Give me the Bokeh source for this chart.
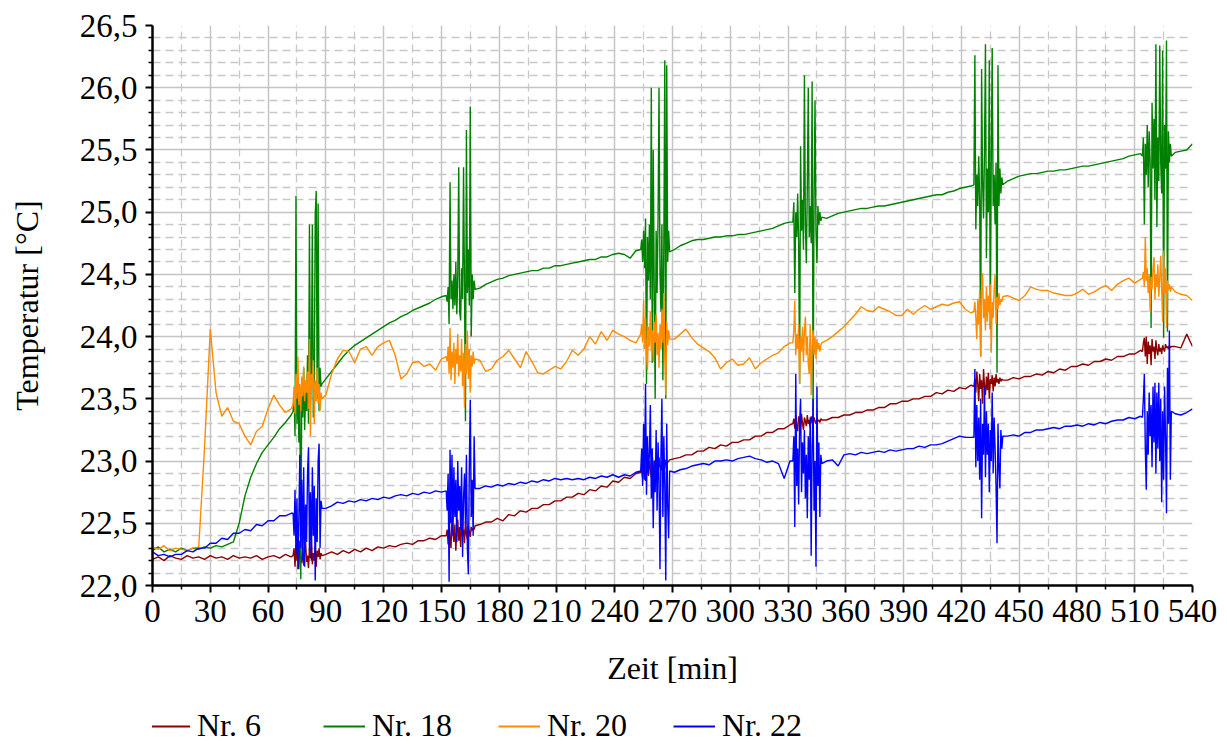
from bokeh.plotting import figure
from bokeh.layouts import column
from bokeh.models import FixedTicker, CustomJSTickFormatter, Legend, LegendItem, Range1d
from bokeh.embed import file_html
from bokeh.resources import INLINE

# time axis segments: (start minute, step in minutes); values below are read per segment
SEGMENTS = [(0, 3), (73, 0.5), (90, 3), (152.5, 0.5), (170, 3), (253.5, 0.5), (271, 3),
            (332.5, 0.5), (350, 3), (426.5, 0.5), (444, 3), (514, 0.5), (531, 3)]

nr6 = [
    [22.21, 22.23, 22.20, 22.24, 22.22, 22.21, 22.24, 22.22, 22.23, 22.21, 22.24, 22.22, 22.23,
     22.21, 22.24, 22.22, 22.23, 22.22, 22.24, 22.21, 22.23, 22.24, 22.22, 22.25, 22.23],
    [22.24, 22.30, 22.15, 22.33, 22.20, 22.28, 22.13, 22.36, 22.22, 22.18, 22.31, 22.16, 22.27,
     22.35, 22.19, 22.24, 22.14, 22.30, 22.22, 22.37, 22.17, 22.26, 22.20, 22.32, 22.15, 22.28,
     22.23, 22.30, 22.21, 22.26, 22.24],
    [22.25, 22.27, 22.25, 22.28, 22.26, 22.29, 22.27, 22.30, 22.28, 22.31, 22.30, 22.32, 22.31,
     22.33, 22.34, 22.33, 22.36, 22.36, 22.38, 22.37, 22.40],
    [22.40, 22.45, 22.33, 22.52, 22.38, 22.30, 22.55, 22.42, 22.35, 22.49, 22.28, 22.44, 22.53,
     22.36, 22.47, 22.31, 22.50, 22.40, 22.45, 22.34, 22.52, 22.41, 22.37, 22.48, 22.43, 22.39,
     22.47, 22.44, 22.46, 22.45, 22.48],
    [22.49, 22.51, 22.51, 22.54, 22.52, 22.57, 22.56, 22.60, 22.59, 22.62, 22.62, 22.65, 22.65,
     22.68, 22.68, 22.71, 22.71, 22.74, 22.73, 22.77, 22.76, 22.80, 22.79, 22.84, 22.83, 22.87,
     22.86, 22.90],
    [22.91, 22.93, 22.86, 22.98, 22.90, 22.84, 23.02, 22.92, 22.88, 23.00, 22.94, 22.87, 23.04,
     22.95, 22.90, 23.01, 22.93, 22.97, 22.89, 23.03, 22.96, 22.92, 23.00, 22.95, 22.98, 22.94,
     23.01, 22.97, 22.99, 23.00, 23.01],
    [23.02, 23.03, 23.05, 23.05, 23.08, 23.08, 23.11, 23.10, 23.13, 23.12, 23.15, 23.15, 23.17,
     23.17, 23.20, 23.20, 23.23, 23.23, 23.26, 23.26, 23.29],
    [23.30, 23.34, 23.26, 23.37, 23.29, 23.24, 23.36, 23.31, 23.27, 23.38, 23.30, 23.25, 23.35,
     23.32, 23.28, 23.37, 23.30, 23.33, 23.27, 23.36, 23.31, 23.29, 23.35, 23.32, 23.30, 23.34,
     23.32, 23.33, 23.31, 23.34, 23.33],
    [23.33, 23.35, 23.35, 23.37, 23.37, 23.39, 23.39, 23.41, 23.41, 23.43, 23.43, 23.46, 23.46,
     23.48, 23.48, 23.50, 23.50, 23.52, 23.52, 23.55, 23.54, 23.57, 23.56, 23.59, 23.58, 23.61],
    [23.60, 23.66, 23.55, 23.72, 23.62, 23.48, 23.70, 23.58, 23.65, 23.46, 23.74, 23.60, 23.53,
     23.68, 23.57, 23.71, 23.50, 23.66, 23.62, 23.69, 23.56, 23.67, 23.60, 23.70, 23.63, 23.66,
     23.62, 23.67, 23.64, 23.66, 23.65],
    [23.65, 23.67, 23.66, 23.68, 23.68, 23.70, 23.69, 23.72, 23.71, 23.74, 23.73, 23.76, 23.76,
     23.78, 23.77, 23.80, 23.80, 23.82, 23.81, 23.84, 23.84, 23.86, 23.86, 23.89],
    [23.88, 23.95, 23.99, 23.84, 24.00, 23.78, 23.96, 23.86, 23.93, 23.77, 23.98, 23.88, 23.92,
     23.82, 23.97, 23.89, 23.85, 23.94, 23.88, 23.91, 23.86, 23.93, 23.90, 23.88, 23.94, 23.91,
     23.92, 23.90, 23.93, 23.91, 23.92],
    [23.92, 23.91, 24.02, 23.92],
]

nr18 = [
    [22.28, 22.31, 22.27, 22.29, 22.27, 22.30, 22.28, 22.30, 22.29, 22.31, 22.30, 22.32, 22.31,
     22.33, 22.35, 22.50, 22.72, 22.87, 22.98, 23.07, 23.13, 23.19, 23.26, 23.31, 23.37],
    [23.40, 23.55, 23.20, 25.13, 23.30, 23.65, 23.15, 23.50, 22.05, 23.60, 23.35, 23.75, 23.25,
     23.55, 23.40, 23.85, 23.30, 24.90, 23.45, 23.70, 24.90, 23.35, 23.60, 24.98, 25.17, 23.50,
     25.07, 23.40, 23.75, 23.60, 23.62],
    [23.66, 23.72, 23.78, 23.84, 23.89, 23.93, 23.96, 23.99, 24.02, 24.05, 24.08, 24.11, 24.13,
     24.16, 24.18, 24.21, 24.23, 24.25, 24.27, 24.30, 24.32],
    [24.33, 24.28, 24.40, 24.10, 25.24, 24.30, 24.45, 24.22, 24.50, 24.25, 24.60, 24.18, 24.48,
     25.36, 24.20, 24.13, 24.55, 24.30, 25.36, 24.40, 23.32, 25.66, 24.35, 24.70, 24.25, 25.85,
     24.00, 24.50, 24.30, 24.45, 24.38],
    [24.39, 24.42, 24.44, 24.46, 24.47, 24.49, 24.50, 24.51, 24.52, 24.53, 24.53, 24.55, 24.55,
     24.57, 24.57, 24.58, 24.59, 24.60, 24.61, 24.62, 24.62, 24.64, 24.64, 24.66, 24.67, 24.66,
     24.63, 24.69],
    [24.70, 24.78, 24.60, 24.85, 24.55, 24.95, 23.62, 24.80, 24.45, 24.90, 24.30, 26.00, 23.79,
     25.50, 24.40, 23.50, 24.85, 24.35, 24.95, 26.00, 24.50, 24.20, 24.90, 23.65, 24.75, 26.22,
     23.50, 26.18, 24.60, 24.85, 24.68],
    [24.70, 24.73, 24.75, 24.77, 24.78, 24.78, 24.79, 24.80, 24.80, 24.81, 24.81, 24.82, 24.82,
     24.83, 24.84, 24.85, 24.86, 24.87, 24.89, 24.91, 24.92],
    [24.92, 25.08, 24.35, 25.00, 24.80, 25.15, 24.75, 23.62, 25.53, 24.85, 25.10, 24.70, 26.10,
     24.90, 24.59, 25.20, 26.00, 24.80, 25.05, 24.75, 26.05, 23.40, 25.10, 25.90, 24.85, 24.59,
     25.05, 24.90, 25.00, 24.93, 24.96],
    [24.95, 24.97, 24.99, 25.00, 25.01, 25.02, 25.03, 25.03, 25.04, 25.05, 25.05, 25.06, 25.07,
     25.08, 25.09, 25.10, 25.11, 25.12, 25.13, 25.14, 25.14, 25.16, 25.17, 25.19, 25.20, 25.21],
    [25.22, 26.26, 24.86, 25.30, 25.05, 25.45, 25.10, 23.84, 26.15, 25.25, 24.95, 25.50, 26.35,
     24.63, 25.35, 25.00, 26.22, 24.06, 25.40, 26.32, 25.05, 25.30, 24.90, 25.40, 23.71, 26.18,
     25.05, 25.35, 25.15, 25.28, 25.22],
    [25.25, 25.27, 25.29, 25.30, 25.31, 25.31, 25.32, 25.33, 25.33, 25.34, 25.34, 25.35, 25.36,
     25.37, 25.37, 25.38, 25.39, 25.40, 25.41, 25.42, 25.43, 25.45, 25.46, 25.47],
    [25.45, 25.60, 24.90, 25.55, 25.30, 25.70, 25.20, 25.65, 25.40, 24.07, 25.88, 25.35, 25.75,
     25.10, 26.35, 24.88, 25.60, 25.25, 26.34, 25.40, 25.15, 26.30, 23.99, 25.70, 25.35, 26.38,
     24.04, 25.65, 25.40, 25.55, 25.45],
    [25.48, 25.49, 25.50, 25.55],
]

nr20 = [
    [22.31, 22.29, 22.32, 22.28, 22.30, 22.29, 22.28, 22.30, 22.31, 23.10, 24.06, 23.55, 23.36,
     23.43, 23.32, 23.30, 23.20, 23.13, 23.24, 23.28, 23.42, 23.53, 23.45, 23.39, 23.42],
    [23.45, 23.60, 23.38, 23.70, 23.50, 23.84, 23.45, 23.62, 23.40, 23.68, 23.52, 23.76, 23.48,
     23.65, 23.55, 23.72, 23.42, 23.98, 23.20, 23.70, 23.58, 23.81, 23.30, 23.65, 23.48, 23.75,
     23.46, 23.62, 23.40, 23.55, 23.50],
    [23.53, 23.70, 23.82, 23.89, 23.88, 23.79, 23.90, 23.92, 23.85, 23.92, 23.95, 23.97, 23.85,
     23.66, 23.70, 23.79, 23.80, 23.76, 23.78, 23.73, 23.82],
    [23.84, 23.80, 23.92, 23.70, 24.07, 23.65, 23.88, 23.75, 23.95, 23.62, 23.90, 23.78, 24.02,
     23.68, 23.85, 23.72, 23.98, 23.60, 23.87, 23.43, 23.94, 23.70, 24.05, 23.66, 23.90, 23.55,
     23.85, 23.76, 23.88, 23.78, 23.82],
    [23.81, 23.72, 23.74, 23.81, 23.84, 23.89, 23.82, 23.75, 23.88, 23.80, 23.71, 23.70, 23.73,
     23.76, 23.74, 23.80, 23.89, 23.85, 23.90, 24.00, 23.94, 24.04, 23.97, 24.05, 24.02, 24.00,
     23.97, 23.95],
    [24.02, 24.10, 23.95, 24.30, 23.90, 24.15, 23.85, 23.73, 24.08, 23.92, 24.20, 23.88, 24.05,
     23.80, 24.12, 23.95, 24.18, 23.85, 24.03, 23.75, 24.10, 23.90, 24.22, 23.95, 24.35, 23.82,
     23.53, 24.12, 23.93, 24.05, 23.98],
    [23.98, 24.02, 24.06, 23.99, 23.94, 23.91, 23.88, 23.83, 23.74, 23.79, 23.82, 23.77, 23.78,
     23.83, 23.74, 23.79, 23.82, 23.85, 23.87, 23.92, 23.95],
    [23.95, 24.05, 24.29, 23.85, 24.02, 23.90, 24.10, 23.62, 24.00, 23.88, 24.08, 23.80, 24.05,
     24.16, 23.85, 24.00, 23.78, 23.70, 24.10, 23.53, 23.92, 24.05, 23.85, 24.00, 23.82, 23.98,
     23.90, 23.95, 23.88, 23.93, 23.95],
    [23.97, 24.00, 24.04, 24.08, 24.13, 24.18, 24.24, 24.21, 24.20, 24.24, 24.22, 24.20, 24.17,
     24.17, 24.22, 24.18, 24.22, 24.25, 24.22, 24.24, 24.26, 24.25, 24.27, 24.28, 24.22, 24.19],
    [24.20, 24.28, 24.15, 23.98, 24.30, 24.10, 24.38, 23.84, 24.35, 24.51, 24.15, 24.30, 24.05,
     24.40, 24.12, 24.33, 24.20, 24.42, 23.87, 24.28, 24.15, 24.38, 24.50, 24.10, 24.32, 24.22,
     24.35, 24.25, 24.30, 24.28, 24.32],
    [24.33, 24.31, 24.29, 24.33, 24.40, 24.38, 24.37, 24.37, 24.35, 24.34, 24.33, 24.33, 24.35,
     24.38, 24.34, 24.36, 24.39, 24.41, 24.37, 24.42, 24.45, 24.47, 24.43, 24.46],
    [24.47, 24.52, 24.40, 24.80, 24.45, 24.55, 24.35, 24.50, 24.20, 24.48, 24.38, 24.55, 24.64,
     24.30, 24.50, 24.40, 24.58, 24.32, 24.47, 24.65, 24.38, 24.12, 24.69, 24.35, 24.55, 24.07,
     24.45, 24.38, 24.42, 24.36, 24.40],
    [24.36, 24.34, 24.33, 24.29],
]

nr22 = [
    [22.27, 22.24, 22.25, 22.23, 22.25, 22.25, 22.28, 22.27, 22.30, 22.30, 22.34, 22.34, 22.38,
     22.37, 22.42, 22.42, 22.45, 22.44, 22.49, 22.48, 22.52, 22.52, 22.56, 22.56, 22.58],
    [22.58, 22.40, 22.77, 22.25, 22.70, 22.13, 22.55, 23.05, 22.30, 22.85, 22.20, 22.95, 22.15,
     22.65, 22.35, 22.90, 23.11, 22.28, 22.75, 22.20, 22.95, 22.40, 22.80, 22.04, 22.70, 22.35,
     23.00, 23.14, 22.30, 22.68, 22.62],
    [22.62, 22.64, 22.67, 22.66, 22.68, 22.67, 22.69, 22.68, 22.70, 22.69, 22.71, 22.70, 22.72,
     22.73, 22.72, 22.74, 22.73, 22.75, 22.74, 22.76, 22.75],
    [22.76, 22.60, 22.90, 22.03, 23.09, 22.50, 23.05, 22.40, 22.95, 22.55, 22.85, 22.35, 23.00,
     22.60, 22.80, 22.45, 22.95, 22.23, 22.70, 22.90, 22.50, 23.05, 22.30, 22.09, 22.95, 23.49,
     22.55, 22.85, 22.40, 23.20, 22.78],
    [22.78, 22.80, 22.79, 22.81, 22.80, 22.82, 22.81, 22.83, 22.82, 22.84, 22.83, 22.85, 22.84,
     22.86, 22.85, 22.86, 22.85, 22.86, 22.85, 22.87, 22.86, 22.88, 22.87, 22.89, 22.87, 22.89,
     22.88, 22.91],
    [22.92, 23.10, 22.80, 23.30, 22.85, 23.62, 22.73, 23.20, 22.90, 23.05, 23.45, 22.70, 23.10,
     22.46, 23.00, 22.75, 23.25, 22.60, 23.15, 22.85, 22.13, 23.05, 23.50, 22.55, 23.20, 22.80,
     22.04, 23.30, 22.65, 22.38, 22.92],
    [22.91, 22.93, 22.94, 22.96, 22.97, 22.98, 22.97, 23.00, 23.00, 23.01, 23.00, 23.02, 23.03,
     23.04, 23.02, 23.01, 22.99, 23.00, 22.98, 22.86, 23.00],
    [23.00, 23.20, 22.47, 23.70, 22.80, 23.10, 22.65, 23.30, 23.50, 22.75, 23.15, 22.90, 23.25,
     22.70, 23.05, 22.54, 23.20, 22.85, 23.35, 22.24, 23.10, 23.50, 22.60, 23.00, 22.15, 23.60,
     22.80, 23.15, 22.55, 23.05, 22.98],
    [23.00, 23.01, 22.96, 23.05, 23.06, 23.05, 23.07, 23.06, 23.07, 23.08, 23.07, 23.09, 23.08,
     23.09, 23.10, 23.10, 23.12, 23.11, 23.13, 23.13, 23.14, 23.16, 23.18, 23.20, 23.19, 23.19],
    [23.19, 23.74, 22.95, 23.45, 23.00, 23.35, 22.85, 23.50, 22.54, 23.30, 23.05, 23.60, 22.87,
     23.40, 23.05, 23.30, 22.75, 23.25, 23.00, 23.55, 22.90, 23.35, 23.10, 22.80, 22.34, 23.30,
     22.95, 22.78, 23.25, 23.10, 23.20],
    [23.20, 23.21, 23.20, 23.23, 23.23, 23.25, 23.25, 23.26, 23.27, 23.26, 23.28, 23.28, 23.29,
     23.28, 23.30, 23.29, 23.31, 23.30, 23.32, 23.33, 23.33, 23.35, 23.34, 23.36],
    [23.35, 23.50, 23.70, 23.10, 22.77, 23.40, 23.05, 23.55, 23.20, 23.45, 22.95, 23.60, 23.15,
     23.63, 22.90, 23.55, 23.10, 23.63, 23.00, 23.50, 22.67, 23.40, 22.85, 23.60, 23.20, 22.58,
     23.75, 23.30, 24.05, 22.85, 23.40],
    [23.38, 23.37, 23.39, 23.42],
]

SERIES = ["Nr. 6", "Nr. 18", "Nr. 20", "Nr. 22"]
COLORS = ["#8b0000", "#008000", "#ff8c00", "#0000ff"]
X_TICKS = list(range(0, 541, 30))
Y_TICKS = [22.0, 22.5, 23.0, 23.5, 24.0, 24.5, 25.0, 25.5, 26.0, 26.5]


def flatten(segs):
    ts, vs = [], []
    for (start, step), vals in zip(SEGMENTS, segs):
        for i, v in enumerate(vals):
            ts.append(start + step * i)
            vs.append(v)
    return ts, vs


FONT = "Liberation Serif"
LEG_H = 54
p = figure(width=1227, height=744 - LEG_H, output_backend="svg", toolbar_location=None,
           x_range=Range1d(0, 540), y_range=Range1d(22.0, 26.5),
           min_border_left=152, min_border_right=35, min_border_top=25,
           min_border_bottom=744 - LEG_H - 585)
p.outline_line_color = None
p.background_fill_color = "white"
p.border_fill_color = "white"

x_minor = [t + 15 for t in X_TICKS[:-1]]
y_minor = [round(22.0 + 0.1 * k, 1) for k in range(1, 45) if k % 5 != 0]
p.xaxis.ticker = FixedTicker(ticks=X_TICKS, minor_ticks=x_minor)
p.yaxis.ticker = FixedTicker(ticks=Y_TICKS, minor_ticks=y_minor)
p.yaxis.formatter = CustomJSTickFormatter(code="return tick.toFixed(1).replace('.', ',');")
p.xaxis.formatter = CustomJSTickFormatter(code="return tick.toFixed(0);")

p.xgrid.ticker = FixedTicker(ticks=X_TICKS[1:-1], minor_ticks=x_minor)
p.ygrid.ticker = FixedTicker(ticks=Y_TICKS[1:-1], minor_ticks=y_minor)
for g in (p.xgrid[0], p.ygrid[0]):
    g.grid_line_color = "#c4c4c4"
    g.grid_line_width = 1.5
    g.minor_grid_line_color = "#c8c8c8"
    g.minor_grid_line_width = 1.3
    g.minor_grid_line_dash = "8 5"

for ax in (p.xaxis[0], p.yaxis[0]):
    ax.axis_line_width = 2.5
    ax.axis_line_color = "black"
    ax.major_tick_line_width = 2
    ax.major_tick_out = 7
    ax.major_tick_in = 0
    ax.minor_tick_line_width = 1.5
    ax.minor_tick_out = 4
    ax.minor_tick_in = 0
    ax.major_label_text_font = FONT
    ax.major_label_text_font_size = "33px"
    ax.major_label_text_color = "black"
    ax.axis_label_text_font = FONT
    ax.axis_label_text_font_size = "32px"
    ax.axis_label_text_font_style = "normal"
    ax.axis_label_text_color = "black"

p.xaxis.axis_label = "Zeit [min]"
p.yaxis.axis_label = "Temperatur [°C]"
p.xaxis.major_label_standoff = 7
p.yaxis.major_label_standoff = 8
p.xaxis.axis_label_standoff = 25
p.yaxis.axis_label_standoff = 32

# legend strip below the chart (its own small canvas so the entries are not clipped)
leg = figure(width=1227, height=LEG_H, output_backend="svg", toolbar_location=None,
             x_range=Range1d(0, 1), y_range=Range1d(0, 1), x_axis_type=None, y_axis_type=None,
             min_border_left=0, min_border_right=0, min_border_top=0, min_border_bottom=0)
leg.outline_line_color = None
leg.grid.visible = False

items = []
for name, color, segs in zip(SERIES, COLORS, [nr6, nr18, nr20, nr22]):
    ts, vs = flatten(segs)
    p.line(ts, vs, line_color=color, line_width=1.4)
    # same series on the legend canvas, whose ranges keep it out of view; only its key shows
    r = leg.line(ts, vs, line_color=color, line_width=2)
    items.append(LegendItem(label=name, renderers=[r]))

legend = Legend(items=items, orientation="horizontal", location=(-4, 0), margin=0, padding=0,
                spacing=26, label_width=100, glyph_width=42, glyph_height=20, label_standoff=7,
                label_text_font=FONT, label_text_font_size="32px", label_text_color="black",
                border_line_color=None, background_fill_alpha=0)
leg.add_layout(legend, "center")

open("out.html", "w").write(file_html(column(p, leg), INLINE))
